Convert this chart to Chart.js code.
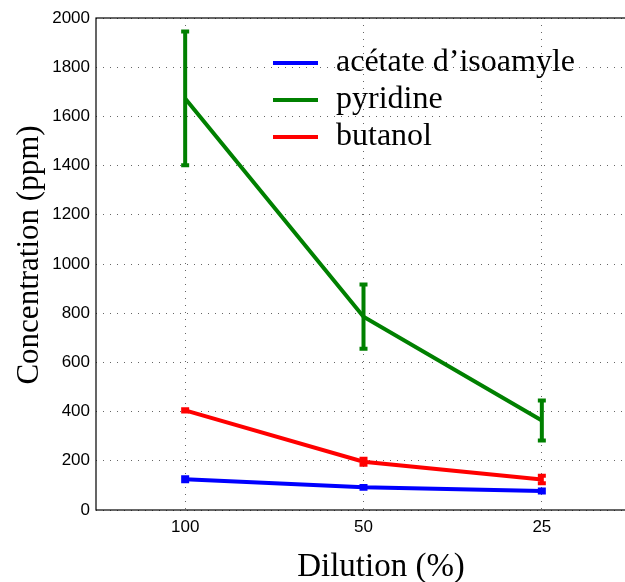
<!DOCTYPE html>
<html>
<head>
<meta charset="utf-8">
<script src="https://cdn.jsdelivr.net/npm/chart.js@4"></script>
<style>
  html, body { margin: 0; padding: 0; overflow: hidden; background: #fff; }
  canvas { display: block; }
</style>
</head>
<body>
<canvas id="c" width="640" height="582"></canvas>
<script>
const categories = ['100', '50', '25'];
const seriesNames = ['acétate d\u2019isoamyle', 'pyridine', 'butanol'];
const acetate = [125, 92, 77];
const acetateErr = [8, 6, 6];
const pyridine = [1673, 786, 364];
const pyridineErr = [272, 131, 81];
const butanol = [405, 196, 124];
const butanolErr = [5, 12, 15];
const yTicks = [0, 200, 400, 600, 800, 1000, 1200, 1400, 1600, 1800, 2000];
const xTitle = 'Dilution (%)';
const yTitle = 'Concentration (ppm)';

const colors = ['#0000ff', '#008000', '#ff0000'];

const errorBars = {
  id: 'errorBars',
  afterDatasetDraw(chart, args) {
    const ds = chart.data.datasets[args.index];
    const meta = args.meta;
    const yScale = chart.scales.y;
    const ctx = chart.ctx;
    ctx.save();
    ctx.strokeStyle = ds.borderColor;
    ctx.lineCap = 'butt';
    meta.data.forEach((pt, i) => {
      const v = ds.data[i];
      const e = ds.errors[i];
      const yTop = yScale.getPixelForValue(v + e);
      const yBot = yScale.getPixelForValue(v - e);
      const x = pt.x;
      ctx.lineWidth = 4;
      ctx.beginPath();
      ctx.moveTo(x, yTop);
      ctx.lineTo(x, yBot);
      ctx.stroke();
      ctx.beginPath();
      ctx.moveTo(x - 4, yTop);
      ctx.lineTo(x + 4, yTop);
      ctx.moveTo(x - 4, yBot);
      ctx.lineTo(x + 4, yBot);
      ctx.stroke();
    });
    ctx.restore();
  }
};

const frameAndText = {
  id: 'frameAndText',
  afterDraw(chart) {
    const ctx = chart.ctx;
    const a = chart.chartArea;
    ctx.save();
    ctx.strokeStyle = '#000';
    ctx.lineWidth = 1.2;
    ctx.strokeRect(a.left, a.top, a.right - a.left, a.bottom - a.top);

    // legend
    const lx0 = 273, lx1 = 318, ly0 = 63, ldy = 37;
    ctx.font = '32px "Liberation Serif"';
    ctx.textAlign = 'left';
    ctx.textBaseline = 'alphabetic';
    seriesNames.forEach((name, i) => {
      const y = ly0 + i * ldy;
      ctx.strokeStyle = colors[i];
      ctx.lineWidth = 4;
      ctx.beginPath();
      ctx.moveTo(lx0, y);
      ctx.lineTo(lx1, y);
      ctx.stroke();
      ctx.fillStyle = '#000';
      ctx.fillText(name, 336, y + 8);
    });

    // axis titles
    ctx.fillStyle = '#000';
    ctx.textAlign = 'center';
    ctx.font = '33px "Liberation Serif"';
    ctx.fillText(xTitle, 381, 576);
    ctx.save();
    ctx.translate(38, 255);
    ctx.rotate(-Math.PI / 2);
    ctx.font = '31px "Liberation Serif"';
    ctx.fillText(yTitle, 0, 0);
    ctx.restore();
    ctx.restore();
  }
};

const gridStyle = {
  color: 'rgba(0,0,0,0.6)',
  lineWidth: 1,
  drawTicks: false,
};

new Chart(document.getElementById('c'), {
  type: 'line',
  data: {
    labels: categories,
    datasets: [
      { label: seriesNames[0], data: acetate, errors: acetateErr, borderColor: colors[0] },
      { label: seriesNames[1], data: pyridine, errors: pyridineErr, borderColor: colors[1] },
      { label: seriesNames[2], data: butanol, errors: butanolErr, borderColor: colors[2] },
    ].map(d => Object.assign(d, { borderWidth: 4, pointRadius: 0, tension: 0, fill: false, backgroundColor: d.borderColor }))
  },
  options: {
    responsive: false,
    devicePixelRatio: 1,
    animation: false,
    layout: { padding: { top: 18, right: 9, left: 0, bottom: 0 } },
    plugins: { legend: { display: false }, tooltip: { enabled: false } },
    scales: {
      x: {
        type: 'category',
        offset: true,
        grid: Object.assign({ offset: false }, gridStyle),
        border: { display: false, dash: [1, 6] },
        ticks: { color: '#000', font: { family: '"Liberation Sans"', size: 17 }, padding: 7, maxRotation: 0 },
        afterFit(s) { s.height = 72; }
      },
      y: {
        min: 0, max: 2000,
        afterBuildTicks(s) { s.ticks = yTicks.map(v => ({ value: v })); },
        grid: gridStyle,
        border: { display: false, dash: [1, 6] },
        ticks: { color: '#000', font: { family: '"Liberation Sans"', size: 17 }, padding: 6, callback: v => String(v) },
        afterFit(s) { s.width = 96; }
      }
    }
  },
  plugins: [errorBars, frameAndText]
});
</script>
</body>
</html>
